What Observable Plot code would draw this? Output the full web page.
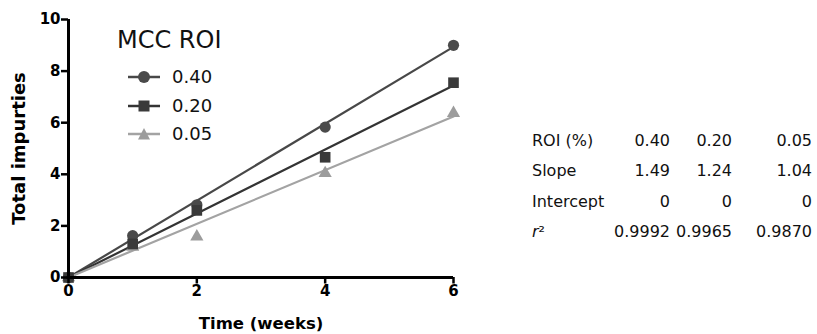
<!DOCTYPE html>
<html>
<head>
<meta charset="utf-8">
<script src="https://cdn.jsdelivr.net/npm/d3@7"></script>
<script src="https://cdn.jsdelivr.net/npm/@observablehq/plot@0.6"></script>
<style>
  html, body { margin: 0; padding: 0; background: #fff; }
  #wrap { position: relative; width: 817px; height: 334px; font-family: "DejaVu Sans", sans-serif; }
  .lg { position: absolute; white-space: nowrap; color: #111; line-height: 30px; height: 30px; }
  .lg.title { font-size: 24px; }
  .lg.item { font-size: 18px; }
  .lg svg { position: absolute; }
  #stats { position: absolute; left: 532px; top: 125.5px; border-collapse: collapse; color: #111; }
  #stats td { padding: 0; height: 30.3px; font-size: 16px; font-family: "DejaVu Sans", sans-serif; white-space: nowrap; }
  #stats td.lab { text-align: left; }
  #stats td.num { text-align: right; }
  g[aria-label="x-axis tick label"], g[aria-label="y-axis tick label"] { font-weight: bold; font-size: 15px; fill: #000; }
</style>
</head>
<body>
<div id="wrap"></div>
<script>
const weeks = [0, 1, 2, 4, 6];
const seriesNames = ["0.40", "0.20", "0.05"];
const roi040 = [0, 1.62, 2.82, 5.83, 9.0];
const roi020 = [0, 1.30, 2.60, 4.66, 7.55];
const roi005 = [0, 1.18, 1.58, 4.04, 6.37];
const slopes = [1.49, 1.24, 1.04];
const intercepts = [0, 0, 0];
const rSquared = ["0.9992", "0.9965", "0.9870"];
const xTicks = [0, 2, 4, 6];
const yTicks = [0, 2, 4, 6, 8, 10];
const xTitle = "Time (weeks)";
const yTitle = "Total impurties";
const legendTitle = "MCC ROI";

const pointColors = ["#4a4a4a", "#3a3a3a", "#9c9c9c"];
const lineColors = ["#484848", "#343434", "#a3a3a3"];
const symbols = ["circle", "square", "triangle"];
const pointR = [5.6, 6.0, 4.9];

const values = [roi040, roi020, roi005];
const points = [];
values.forEach((vals, s) => vals.forEach((v, i) => points.push({series: seriesNames[s], x: weeks[i], y: v})));
const fitLines = [];
seriesNames.forEach((name, s) => {
  [weeks[0], weeks[weeks.length - 1]].forEach(w => fitLines.push({series: name, x: w, y: intercepts[s] + slopes[s] * w}));
});
const dotMark = s => Plot.dot(points.filter(d => d.series === seriesNames[s]),
  {x: "x", y: "y", symbol: "series", r: pointR[s], fill: pointColors[s], stroke: "none"});

const chart = Plot.plot({
  width: 817,
  height: 334,
  marginLeft: 68,
  marginRight: 364,
  marginTop: 19,
  marginBottom: 57,
  style: {fontFamily: "'DejaVu Sans', sans-serif", background: "#fff", overflow: "visible"},
  x: {domain: [0, 6], ticks: xTicks, label: null},
  y: {domain: [0, 10], ticks: yTicks, label: null},
  symbol: {domain: seriesNames, range: symbols},
  marks: [
    Plot.line(fitLines, {x: "x", y: "y", z: "series", stroke: d => lineColors[seriesNames.indexOf(d.series)], strokeWidth: 2.2}),
    dotMark(2),
    dotMark(0),
    dotMark(1),
    Plot.ruleY([0], {stroke: "#000", strokeWidth: 3, insetLeft: -1.5}),
    Plot.ruleX([0], {stroke: "#000", strokeWidth: 3, insetBottom: -1.5}),
    Plot.axisX({ticks: xTicks, tickSize: 6.5, tickPadding: 1.5, fontSize: 15, fontWeight: "bold", fill: "#000", stroke: "#000", strokeWidth: 2.5, label: null, tickFormat: d => String(d)}),
    Plot.axisY({ticks: yTicks, tickSize: 7, tickPadding: 1, fontSize: 15, fontWeight: "bold", fill: "#000", stroke: "#000", strokeWidth: 2.5, label: null, tickFormat: d => String(d)}),
    Plot.text([xTitle], {frameAnchor: "bottom", dy: 46, text: d => d, fontSize: 16.5, fontWeight: "bold", fill: "#000", lineAnchor: "middle", textAnchor: "middle"}),
    Plot.text([yTitle], {frameAnchor: "left", dx: -49, rotate: -90, text: d => d, fontSize: 18, fontWeight: "bold", fill: "#000", lineAnchor: "middle", textAnchor: "middle"})
  ]
});

const wrap = document.getElementById("wrap");
wrap.appendChild(chart);

// Legend (HTML overlay)
const addDiv = (cls, left, top, html) => {
  const d = document.createElement("div");
  d.className = cls;
  d.style.left = left + "px";
  d.style.top = top + "px";
  d.innerHTML = html;
  wrap.appendChild(d);
};
addDiv("lg title", 117, 25, legendTitle);
const rowTops = [62, 91, 119];
seriesNames.forEach((name, s) => {
  const c = lineColors[s], f = pointColors[s];
  let shape;
  if (symbols[s] === "circle") shape = `<circle cx="16" cy="8" r="6" fill="${f}"/>`;
  else if (symbols[s] === "square") shape = `<rect x="10.5" y="2.5" width="11" height="11" fill="${f}"/>`;
  else shape = `<path d="M16,2 L22,13.5 L10,13.5 Z" fill="${f}"/>`;
  addDiv("lg item", 128, rowTops[s],
    `<svg width="32" height="16" style="left:0;top:7px"><line x1="0" x2="32" y1="8" y2="8" stroke="${c}" stroke-width="2.5"/>${shape}</svg><span style="margin-left:44px">${name}</span>`);
});

// Stats table
const table = document.createElement("table");
table.id = "stats";
const rows = [
  ["ROI (%)", seriesNames],
  ["Slope", slopes.map(d => d.toFixed(2))],
  ["Intercept", intercepts.map(String)],
  ["<i>r</i>\u00b2", rSquared]
];
const widths = [82, 56, 62, 80];
table.innerHTML = rows.map(([lab, vals]) =>
  `<tr><td class="lab" style="width:${widths[0]}px">${lab}</td>${vals.map((v, i) => `<td class="num" style="width:${widths[i + 1]}px">${v}</td>`).join("")}</tr>`
).join("");
wrap.appendChild(table);
</script>
</body>
</html>
